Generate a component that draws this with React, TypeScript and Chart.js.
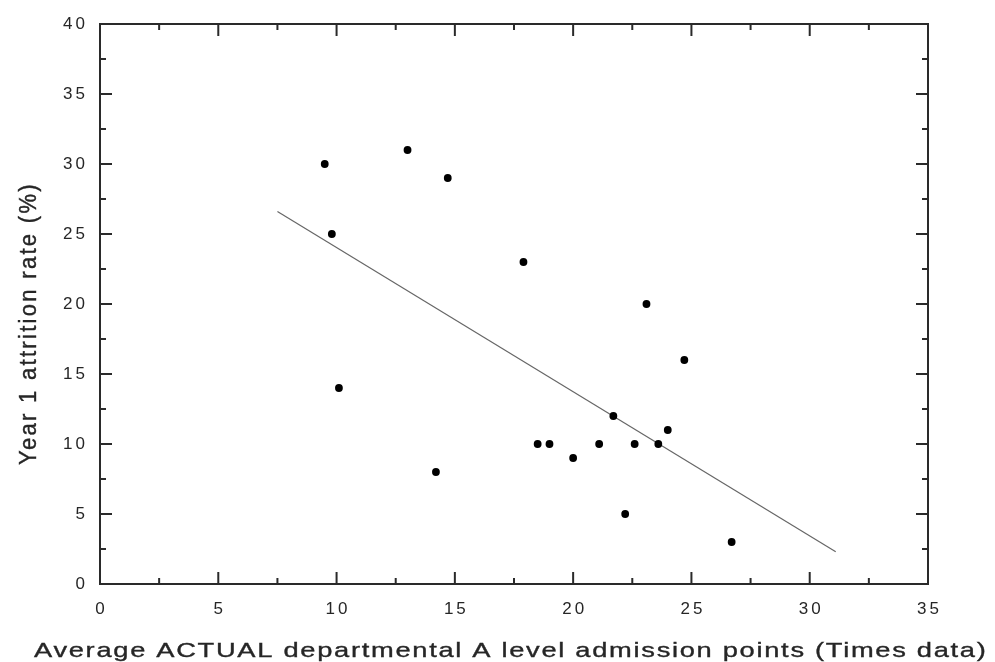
import React, { useEffect, useRef } from 'react';
import { Chart, registerables } from 'chart.js';

Chart.register(...registerables);

// ---- data ----
const admissionPoints = [9.5, 9.8, 10.1, 13.0, 14.2, 14.7, 17.9, 18.5, 19.0, 20.0, 21.1, 21.7, 22.2, 22.6, 23.1, 23.6, 24.0, 24.7, 26.7];
const attritionRates = [30, 25, 14, 31, 8, 29, 23, 10, 10, 9, 10, 12, 5, 10, 20, 10, 11, 16, 3];
const fitLineX = [7.5, 31.1];
const fitLineY = [26.6, 2.3];
const xTickValues = [0, 5, 10, 15, 20, 25, 30, 35];
const yTickValues = [0, 5, 10, 15, 20, 25, 30, 35, 40];
const X_TITLE = 'Average ACTUAL departmental A level admission points (Times data)';
const Y_TITLE = 'Year 1 attrition rate (%)';

const FONT = '"Liberation Sans", Arial, Helvetica, sans-serif';
const TEXT_COLOR = '#262626';
const AXIS_COLOR = '#2a2a2a';
const TICK_SPACING = 3;

const framePlugin = {
  id: 'frameAndTitles',
  beforeDraw(chart: any) {
    chart.ctx.letterSpacing = `${TICK_SPACING}px`;
  },
  afterDraw(chart: any) {
    const { ctx, chartArea } = chart;
    const { left, right, top, bottom } = chartArea;
    const xs = chart.scales.x;
    const ys = chart.scales.y;
    ctx.save();
    ctx.letterSpacing = '0px';
    ctx.strokeStyle = AXIS_COLOR;
    ctx.lineWidth = 2;
    ctx.lineCap = 'butt';
    ctx.beginPath();
    ctx.rect(left, top, right - left, bottom - top);
    ctx.stroke();
    const MAJOR = 12;
    const MINOR = 6;
    const drawX = (v: number, len: number) => {
      const px = xs.getPixelForValue(v);
      ctx.beginPath();
      ctx.moveTo(px, bottom);
      ctx.lineTo(px, bottom - len);
      ctx.moveTo(px, top);
      ctx.lineTo(px, top + len);
      ctx.stroke();
    };
    const drawY = (v: number, len: number) => {
      const py = ys.getPixelForValue(v);
      ctx.beginPath();
      ctx.moveTo(left, py);
      ctx.lineTo(left + len, py);
      ctx.moveTo(right, py);
      ctx.lineTo(right - len, py);
      ctx.stroke();
    };
    const xv = xs.ticks.map((t: any) => t.value);
    const yv = ys.ticks.map((t: any) => t.value);
    xv.forEach((v: number, i: number) => {
      drawX(v, MAJOR);
      if (i < xv.length - 1) drawX((v + xv[i + 1]) / 2, MINOR);
    });
    yv.forEach((v: number, i: number) => {
      drawY(v, MAJOR);
      if (i < yv.length - 1) drawY((v + yv[i + 1]) / 2, MINOR);
    });
    ctx.restore();

    // axis titles
    ctx.save();
    ctx.fillStyle = TEXT_COLOR;
    ctx.strokeStyle = TEXT_COLOR;
    ctx.lineWidth = 0.35;
    ctx.textAlign = 'left';
    ctx.textBaseline = 'alphabetic';
    ctx.font = `21px ${FONT}`;
    ctx.letterSpacing = '1.3px';
    ctx.translate(34, 657);
    ctx.scale(1.3, 1);
    ctx.fillText(X_TITLE, 0, 0);
    ctx.strokeText(X_TITLE, 0, 0);
    ctx.restore();

    ctx.save();
    ctx.fillStyle = TEXT_COLOR;
    ctx.strokeStyle = TEXT_COLOR;
    ctx.lineWidth = 0.35;
    ctx.textAlign = 'left';
    ctx.textBaseline = 'alphabetic';
    ctx.font = `22px ${FONT}`;
    ctx.letterSpacing = '2.3px';
    ctx.translate(36, 465);
    ctx.rotate(-Math.PI / 2);
    ctx.scale(1, 1.1);
    ctx.fillText(Y_TITLE, 0, 0);
    ctx.strokeText(Y_TITLE, 0, 0);
    ctx.restore();
  },
};

export default function App() {
  const canvasRef = useRef<HTMLCanvasElement | null>(null);

  useEffect(() => {
    if (!canvasRef.current) return;
    const points = admissionPoints.map((x, i) => ({ x, y: attritionRates[i] }));
    const fit = fitLineX.map((x, i) => ({ x, y: fitLineY[i] }));
    const chart = new Chart(canvasRef.current, {
      type: 'scatter',
      data: {
        datasets: [
          {
            label: 'Departments',
            data: points,
            pointStyle: 'circle',
            pointRadius: 3.9,
            pointBackgroundColor: '#000',
            pointBorderWidth: 0,
            showLine: false,
          },
          {
            label: 'Linear fit',
            data: fit,
            showLine: true,
            borderColor: '#666',
            borderWidth: 1.2,
            pointRadius: 0,
            fill: false,
          },
        ],
      },
      options: {
        animation: false,
        responsive: true,
        maintainAspectRatio: false,
        events: [],
        layout: { padding: { top: 24, right: 67, left: 0, bottom: 0 } },
        plugins: {
          legend: { display: false },
          tooltip: { enabled: false },
          title: { display: false },
        },
        scales: {
          x: {
            type: 'linear',
            position: 'bottom',
            min: 0,
            max: 35,
            afterBuildTicks: (s: any) => {
              s.ticks = xTickValues.map((v) => ({ value: v }));
            },
            afterFit: (s: any) => {
              s.height = 78;
            },
            grid: { display: false, drawTicks: false },
            border: { display: false },
            ticks: {
              font: { family: FONT, size: 17 },
              color: TEXT_COLOR,
              padding: 15,
              labelOffset: TICK_SPACING / 2,
              maxRotation: 0,
              autoSkip: false,
            },
          },
          y: {
            type: 'linear',
            position: 'left',
            min: 0,
            max: 40,
            afterBuildTicks: (s: any) => {
              s.ticks = yTickValues.map((v) => ({ value: v }));
            },
            afterFit: (s: any) => {
              s.width = 100;
            },
            grid: { display: false, drawTicks: false },
            border: { display: false },
            ticks: {
              font: { family: FONT, size: 17 },
              color: TEXT_COLOR,
              padding: 12,
              autoSkip: false,
            },
          },
        },
      },
      plugins: [framePlugin],
    } as any);
    return () => chart.destroy();
  }, []);

  return (
    <div style={{ position: 'fixed', left: 0, top: 0, width: 995, height: 662, background: '#fff' }}>
      <canvas ref={canvasRef} />
    </div>
  );
}
